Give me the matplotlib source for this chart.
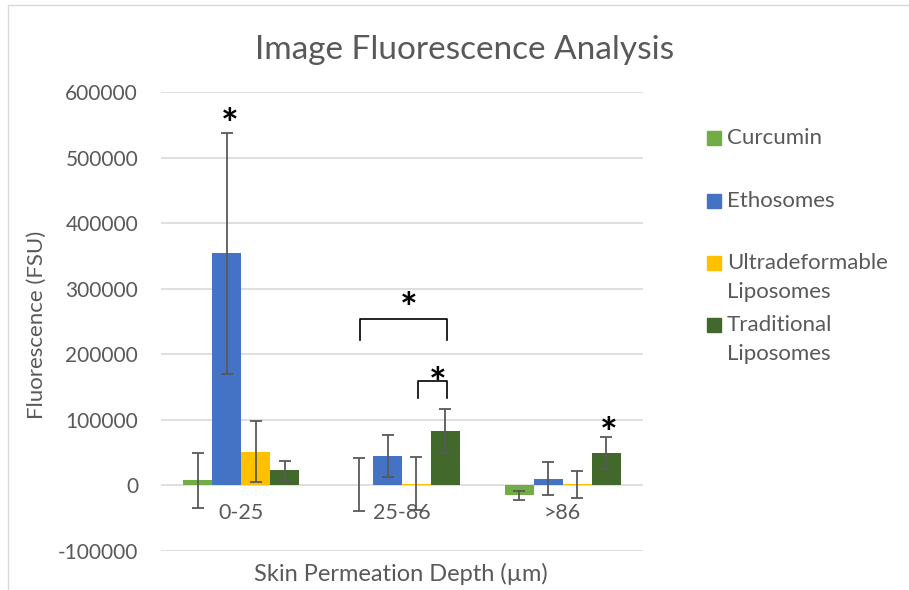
import matplotlib.pyplot as plt
from matplotlib.patches import Rectangle

plt.rcParams['font.family'] = ['Lato', 'DejaVu Sans']
plt.rcParams['axes.unicode_minus'] = False

depths = ["0-25", "25-86", ">86"]
series = ["Curcumin", "Ethosomes", "Ultradeformable\nLiposomes", "Traditional\nLiposomes"]
colors = ["#70AD47", "#4472C4", "#FFC000", "#43682B"]

curcumin = [7600, 1200, -15300]
curcumin_err = [42500, 40500, 7000]
ethosomes = [354000, 45300, 10200]
ethosomes_err = [184000, 32000, 25000]
ultra = [51700, 2500, 1700]
ultra_err = [47000, 40500, 21000]
traditional = [23000, 82900, 49300]
traditional_err = [15000, 33800, 24700]

values = [curcumin, ethosomes, ultra, traditional]
errors = [curcumin_err, ethosomes_err, ultra_err, traditional_err]

# significance marks: (group, series, y of star)
stars = [(0, 1, 565000), (2, 3, 94700)]
# brackets: (group, series a, series b, top, bottom of legs, star y)
brackets = [(1, 0, 3, 254500, 222400, 285500), (1, 2, 3, 159200, 133900, 171000)]

W, H = 909, 590
fig = plt.figure(figsize=(W / 100, H / 100), dpi=100)
ax = fig.add_axes([161 / W, 1 - 551 / H, (643 - 161) / W, (551 - 92) / H])

width = 0.18
x = range(len(depths))
def pos(g, s):
    return g + (s - 1.5) * width

def star(xv, yv):
    ax.annotate("*", (xv, yv), xytext=(0, -9), textcoords='offset points',
                ha='center', va='center', fontsize=30, fontweight='bold',
                color='black', zorder=4)

for s in range(len(series)):
    xs = [pos(g, s) for g in x]
    ax.bar(xs, values[s], width, color=colors[s], zorder=2)
    ax.errorbar(xs, values[s], yerr=errors[s], fmt='none', ecolor='#595959',
                elinewidth=1.3, capsize=4.5, capthick=1.3, zorder=3)

for g, s, y in stars:
    star(pos(g, s) + 0.015, y)

for g, a, b, top, bot, sy in brackets:
    x0, x1 = pos(g, a) + 0.01, pos(g, b) + 0.01
    ax.plot([x0, x0, x1, x1], [bot, top, top, bot], color='black', lw=1.2, zorder=4)
    star((x0 + x1) / 2 + 0.03, sy)

ax.set_xlim(-0.5, 2.5)
ax.set_ylim(-100000, 600000)
ax.set_yticks(range(-100000, 600001, 100000))
ax.set_xticks(list(x))
ax.set_xticklabels(depths)
ax.grid(axis='y', color='#D9D9D9', lw=1.2, zorder=0)
for sp in ['top', 'right', 'left']:
    ax.spines[sp].set_visible(False)
ax.spines['bottom'].set_position(('data', 0))
ax.spines['bottom'].set_visible(False)
ax.tick_params(axis='both', length=0, labelsize=15, labelcolor='#595959')
ax.tick_params(axis='x', labelsize=15.5, pad=13)
ax.tick_params(axis='y', pad=16.5)

fig.text(465 / W, 1 - 50 / H, "Image Fluorescence Analysis", ha='center', va='center',
         fontsize=24, color='#595959')
fig.text(37 / W, 1 - 325 / H, "Fluorescence (FSU)", rotation=90, ha='center', va='center',
         fontsize=16, color='#595959')
fig.text(401 / W, 1 - 574 / H, "Skin Permeation Depth (\u00b5m)", ha='center', va='center',
         fontsize=17, color='#595959')

legend_y = [138, 201, 263, 325]
for s in range(len(series)):
    y = legend_y[s]
    fig.patches.append(Rectangle((707 / W, 1 - (y + 7) / H), 14 / W, 14 / H,
                                 transform=fig.transFigure, color=colors[s]))
    for k, line in enumerate(series[s].split("\n")):
        fig.text(727 / W, 1 - (y + 29 * k) / H, line, ha='left', va='center',
                 fontsize=16, color='#595959')

fig.patches.append(Rectangle((8 / W, -0.1), 1.2, 1.1 - 5 / H, transform=fig.transFigure,
                             fill=False, edgecolor='#D9D9D9', lw=1))

fig.savefig("out.png", dpi=100)
